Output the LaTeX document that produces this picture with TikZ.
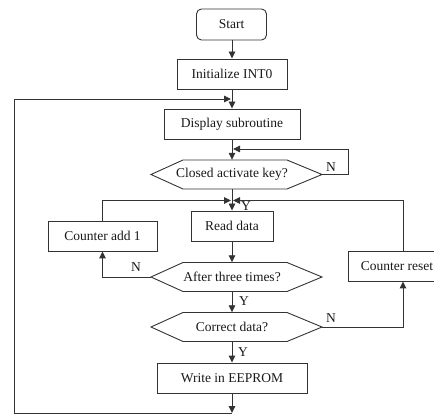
\documentclass[tikz,border=0pt]{standalone}
\usepackage{fontspec}
\setmainfont{Liberation Serif}
\usetikzlibrary{arrows.meta}
\begin{document}
\begin{tikzpicture}[x=1pt,y=-1pt,
  every node/.style={font=\fontsize{13.5}{16}\selectfont, text=black!90},
  procbox/.style={draw=black!80, line width=0.9pt, minimum height=30pt, inner sep=0pt},
  startbox/.style={procbox, rounded corners=5pt},
  decnode/.style={minimum height=29pt, minimum width=100pt, inner sep=0pt},
  hexline/.style={draw=black!80, line width=0.9pt},
  conn/.style={draw=black!80, line width=0.9pt},
  arr/.style={conn, -{Triangle[length=7pt,width=6.5pt]}},
  lbl/.style={inner sep=0pt}
]
\useasboundingbox (0,0) rectangle (434,414);

% boxes
\node[startbox, minimum width=70pt, minimum height=31pt] (start) at (231.5,24.5) {Start};
\node[procbox, minimum width=110pt] (init) at (232,74) {Initialize INT0};
\node[procbox, minimum width=136pt] (disp) at (232,124) {Display subroutine};
\node[decnode] (closed) at (232,174.5) {Closed activate key?};
\node[procbox, minimum width=82pt] (read) at (232,226) {Read data};
\node[procbox, minimum width=109pt] (add) at (102.5,236) {Counter add 1};
\node[procbox, minimum width=98pt] (reset) at (397,266) {Counter reset};
\node[decnode] (after) at (232,277) {After three times?};
\node[decnode] (correct) at (232,327) {Correct data?};
\node[procbox, minimum width=150pt] (write) at (232,378) {Write in EEPROM};

% hexagons
\foreach \n in {closed,after,correct}{
  \draw[hexline] (\n.center) ++(-81,0) coordinate (\n W) -- ++(32,-14.5) -- ++(104,0)
     -- ++(35,14.5) coordinate (\n E) -- ++(-35,14.5) -- ++(-104,0) -- cycle;
}

% junction coordinates
\coordinate (j1) at (232,99);
\coordinate (j2) at (232,149);
\coordinate (j3) at (232,200.5);
\coordinate (bot) at (232,413);

% main flow
\draw[arr] (start.south -| init.north) -- (init.north);
\draw[arr] (init.south) -- (disp.north);
\draw[arr] (disp.south) -- (closed.north);
\draw[arr] (closed.south) -- (read.north);
\draw[arr] (read.south) -- (after.north);
\draw[arr] (after.south) -- (correct.north);
\draw[arr] (correct.south) -- (write.north);
\draw[arr] (write.south) -- (bot);

% outer loop
\draw[arr] (bot) -- (14,413) -- (14,99) -- ([xshift=-1]j1);

% N loop at key
\draw[arr] (closedE) -- (348,174.5) -- (348,149) -- ([xshift=1]j2);

% counter add loop
\draw[arr] (afterW) -| (add.south);
\draw[arr] (add.north) |- ([xshift=-1]j3);

% counter reset loop
\draw[arr] (correctE) -| ([xshift=6]reset.south);
\draw[arr] ([xshift=6]reset.north) |- ([xshift=1]j3);

% labels
\node[lbl] (nkey) at (331,167) {N};
\node[lbl] (ykey) at (246,206) {Y};
\node[lbl] (nafter) at (136,267) {N};
\node[lbl] (yafter) at (244,301) {Y};
\node[lbl] (ncorr) at (331,318) {N};
\node[lbl] (ycorr) at (243,352) {Y};
\end{tikzpicture}
\end{document}
